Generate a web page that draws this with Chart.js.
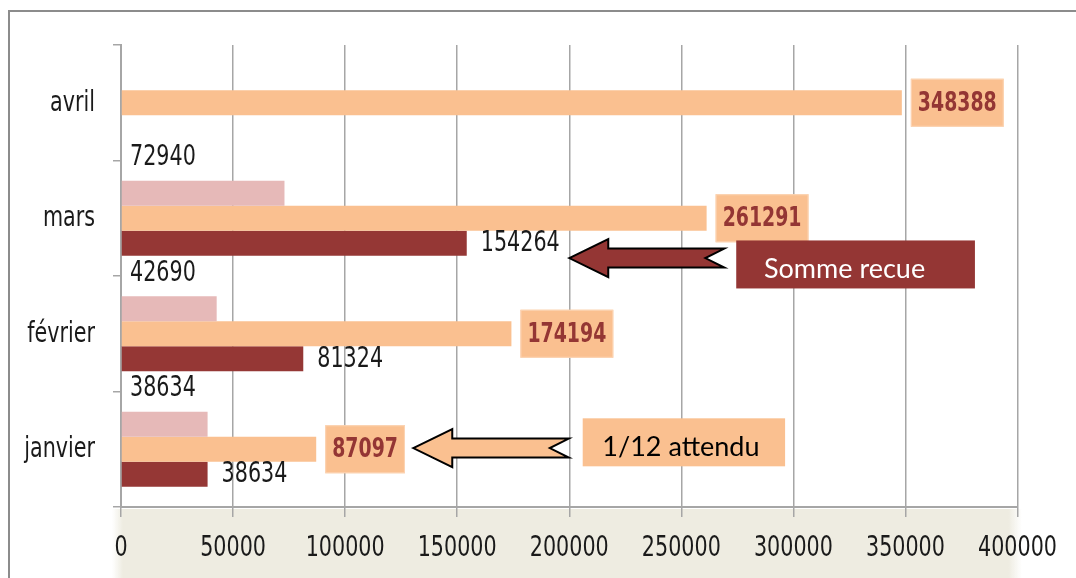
<!DOCTYPE html>
<html>
<head>
<meta charset="utf-8">
<script src="https://cdn.jsdelivr.net/npm/chart.js@4/dist/chart.umd.min.js"></script>
<style>
  html, body { margin: 0; padding: 0; background: #fff; }
  #cadre { width: 1076px; height: 578px; position: relative; }
</style>
</head>
<body>
<div id="cadre"><canvas id="chart"></canvas></div>
<script>
// Donnees
const mois = ['janvier', 'février', 'mars', 'avril'];
const rose = [38634, 42690, 72940, null];
const attendu = [87097, 174194, 261291, 348388];
const recu = [38634, 81324, 154264, null];
const graduations = [0, 50000, 100000, 150000, 200000, 250000, 300000, 350000, 400000];

const police = "'Liberation Sans Narrow', 'DejaVu Sans Condensed', sans-serif";
const policeNote = "Lato, 'Open Sans', sans-serif";

// fleches d'annotation (en coordonnees des axes)
const fleches = [
  { texte: 'Somme recue', pointe: 200000, queue: 269200, y: 1.655, boite: [274500, 381000], yBoite: 1.6, decalage: -11, fond: '#943634', couleur: '#ffffff' },
  { texte: '1/12 attendu', pointe: 130400, queue: 199800, y: 0.01, boite: [206000, 296300], yBoite: 0.06, decalage: -3, fond: '#fac090', couleur: '#000000' }
];

// texte un peu etire en hauteur (police etroite de l'original)
function texteEtire(ctx, t, x, y, k) {
  ctx.save();
  ctx.translate(x, y);
  ctx.scale(1, k);
  ctx.fillText(t, 0, 0);
  ctx.restore();
}

// fond beige sous l'axe + cadre gris
const fond = {
  id: 'fond',
  beforeDraw(chart) {
    const ctx = chart.ctx;
    ctx.save();
    const g = ctx.createLinearGradient(112, 0, 1022, 0);
    g.addColorStop(0, 'rgba(238,236,225,0)');
    g.addColorStop(0.012, 'rgba(238,236,225,1)');
    g.addColorStop(0.985, 'rgba(238,236,225,1)');
    g.addColorStop(1, 'rgba(238,236,225,0)');
    ctx.fillStyle = g;
    ctx.fillRect(112, 509, 910, 69);
    ctx.strokeStyle = '#8c8c8c';
    ctx.lineWidth = 2;
    ctx.strokeRect(9, 11, 1200, 700);
    ctx.restore();
  }
};

// etiquettes des barres, des axes et fleches
const etiquettes = {
  id: 'etiquettes',
  afterDatasetsDraw(chart) {
    const ctx = chart.ctx;
    const x = chart.scales.x, y = chart.scales.y;
    const area = chart.chartArea;
    ctx.save();
    ctx.textBaseline = 'middle';

    // graduations des axes
    ctx.font = '23px ' + police;
    ctx.fillStyle = '#1a1a1a';
    ctx.textAlign = 'center';
    x.ticks.forEach((t, i) => {
      texteEtire(ctx, String(t.value), x.getPixelForTick(i), area.bottom + 42, 1.2);
    });
    ctx.textAlign = 'right';
    y.ticks.forEach((t, i) => {
      texteEtire(ctx, y.getLabelForValue(t.value), area.left - 26, y.getPixelForTick(i) + 1, 1.2);
    });

    ctx.textAlign = 'left';
    chart.getDatasetMeta(0).data.forEach((bar, i) => {
      if (rose[i] == null) return;
      texteEtire(ctx, String(rose[i]), area.left + 9, bar.y - 35, 1.2);
    });
    chart.getDatasetMeta(2).data.forEach((bar, i) => {
      if (recu[i] == null) return;
      texteEtire(ctx, String(recu[i]), bar.x + 14, bar.y + 1, 1.2);
    });

    ctx.font = 'bold 21px ' + police;
    ctx.textAlign = 'center';
    chart.getDatasetMeta(1).data.forEach((bar, i) => {
      const t = String(attendu[i]);
      const w = ctx.measureText(t).width + 14;
      const x0 = bar.x + 9;
      ctx.fillStyle = '#fac090';
      ctx.fillRect(x0, bar.y - 24, w, 48);
      ctx.strokeStyle = '#fcd5b5';
      ctx.lineWidth = 1;
      ctx.strokeRect(x0 + 0.5, bar.y - 23.5, w - 1, 47);
      ctx.fillStyle = '#943634';
      texteEtire(ctx, t, x0 + w / 2, bar.y + 1, 1.3);
    });

    fleches.forEach(f => {
      const xt = x.getPixelForValue(f.pointe);
      const xq = x.getPixelForValue(f.queue);
      const yc = y.getPixelForValue(f.y);
      const xh = xt + 39;
      ctx.beginPath();
      ctx.moveTo(xt, yc);
      ctx.lineTo(xh, yc - 19);
      ctx.lineTo(xh, yc - 9.5);
      ctx.lineTo(xq, yc - 9.5);
      ctx.lineTo(xq - 19, yc);
      ctx.lineTo(xq, yc + 9.5);
      ctx.lineTo(xh, yc + 9.5);
      ctx.lineTo(xh, yc + 19);
      ctx.closePath();
      ctx.fillStyle = f.fond;
      ctx.fill();
      ctx.strokeStyle = '#000';
      ctx.lineWidth = 2;
      ctx.stroke();

      const b0 = x.getPixelForValue(f.boite[0]);
      const b1 = x.getPixelForValue(f.boite[1]);
      const yb = y.getPixelForValue(f.yBoite);
      ctx.fillStyle = f.fond;
      ctx.fillRect(b0, yb - 24, b1 - b0, 48);
      ctx.font = '27px ' + policeNote;
      ctx.fillStyle = f.couleur;
      ctx.textAlign = 'center';
      ctx.fillText(f.texte, (b0 + b1) / 2 + f.decalage, yb + 5);
    });
    ctx.restore();
  }
};

const chart = new Chart(document.getElementById('chart'), {
  type: 'bar',
  data: {
    labels: mois,
    datasets: [
      { label: 'rose', data: rose, backgroundColor: '#e6b9b8' },
      { label: '1/12 attendu', data: attendu, backgroundColor: '#fac090' },
      { label: 'Somme recue', data: recu, backgroundColor: '#953735' }
    ]
  },
  options: {
    indexAxis: 'y',
    responsive: true,
    maintainAspectRatio: false,
    animation: false,
    layout: { padding: { top: 45, right: 56, bottom: 0, left: 0 } },
    datasets: { bar: { categoryPercentage: 0.65, barPercentage: 1 } },
    plugins: { legend: { display: false }, tooltip: { enabled: false } },
    scales: {
      x: {
        min: 0,
        max: 400000,
        afterBuildTicks: s => { s.ticks = graduations.map(v => ({ value: v })); },
        afterFit: s => { s.height = 71; },
        grid: { color: '#a6a6a6', lineWidth: 1.5, tickLength: 10, tickColor: '#a6a6a6' },
        border: { color: '#a6a6a6', width: 2 },
        ticks: {
          font: { family: police, size: 23 }, color: 'rgba(0,0,0,0)', padding: 19, maxRotation: 0, autoSkip: false,
          callback: v => String(v)
        }
      },
      y: {
        reverse: true,
        afterFit: s => { s.width = 121; },
        grid: { drawOnChartArea: false, tickLength: 8, color: '#a6a6a6', lineWidth: 1.5 },
        border: { color: '#a6a6a6', width: 2 },
        ticks: { font: { family: police, size: 23 }, color: 'rgba(0,0,0,0)', padding: 18 }
      }
    }
  },
  plugins: [fond, etiquettes]
});
</script>
</body>
</html>
